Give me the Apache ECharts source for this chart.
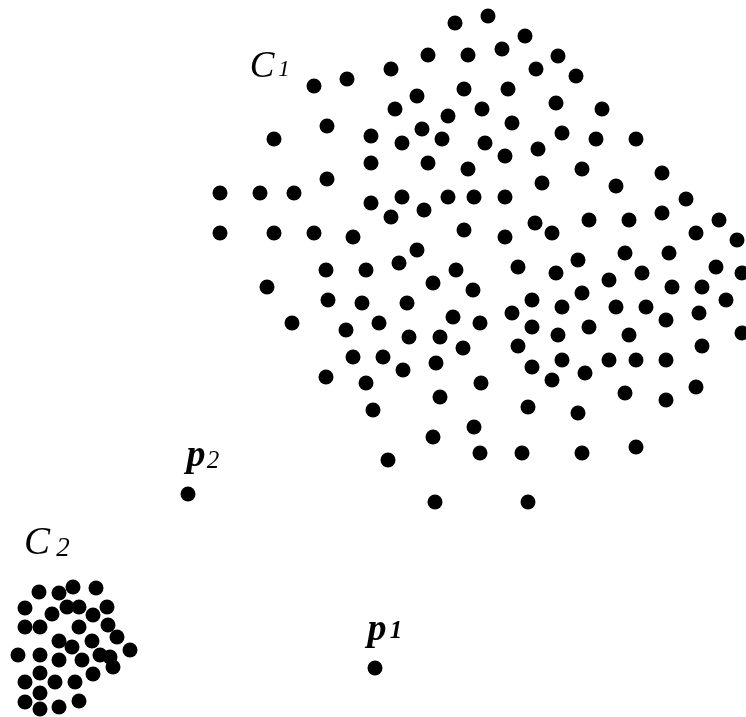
<!DOCTYPE html>
<html>
<head>
<meta charset="utf-8">
<style>
  html, body { margin: 0; padding: 0; background: #fff; }
  #chart { width: 746px; height: 717px; }
</style>
<script src="https://cdn.jsdelivr.net/npm/echarts@6/dist/echarts.min.js"></script>
</head>
<body>
<div id="chart"></div>
<script>
// Large, sparse cluster C1 (x, y in plane units; y grows downward)
const clusterC1 = [
  [455, 23], [488, 16],
  [525, 36], [502, 49], [468, 55], [428, 55], [558, 56],
  [391, 69], [347, 79], [314, 86], [536, 69], [576, 76],
  [464, 89], [508, 89], [417, 96],
  [395, 109], [482, 109], [556, 103], [602, 109],
  [448, 116], [512, 123],
  [327, 126], [422, 129], [562, 133],
  [274, 139], [371, 136], [402, 143], [442, 139], [485, 143], [596, 139], [636, 139],
  [538, 149], [505, 156],
  [371, 163], [428, 163], [468, 169], [582, 169], [662, 173],
  [327, 179], [542, 183], [616, 186],
  [220, 193], [260, 193], [294, 193], [402, 197], [448, 197], [474, 197], [505, 197], [686, 199],
  [371, 203], [424, 210], [391, 217], [662, 213],
  [535, 223], [589, 220], [629, 220], [719, 220],
  [220, 233], [274, 233], [314, 233], [353, 237], [464, 230], [505, 237], [552, 233], [696, 233],
  [737, 240],
  [417, 250], [625, 253], [669, 253], [578, 260],
  [399, 263], [326, 270], [366, 270], [456, 270], [518, 267], [556, 273], [642, 273], [716, 267], [742, 273],
  [609, 280], [433, 283],
  [267, 287], [473, 290], [582, 293], [672, 287], [702, 287],
  [328, 300], [362, 303], [407, 303], [532, 300], [726, 300],
  [562, 307], [616, 307], [646, 307],
  [453, 317], [512, 313], [699, 313],
  [292, 323], [379, 323], [480, 323], [666, 320],
  [346, 330], [532, 327], [589, 327],
  [409, 337], [440, 337], [558, 335], [629, 335], [742, 333],
  [463, 348], [518, 346], [702, 346],
  [353, 357], [383, 357],
  [403, 370], [436, 363], [562, 360], [609, 360], [636, 360], [666, 360], [532, 367],
  [585, 373], [326, 377], [552, 380],
  [366, 383], [481, 383], [696, 387],
  [625, 393], [440, 397], [666, 400],
  [373, 410], [528, 407], [578, 413],
  [474, 427], [433, 437],
  [480, 453], [522, 453], [582, 453], [636, 447],
  [388, 460],
  [435, 502], [528, 502]
];

// Small, dense cluster C2
const clusterC2 = [
  [39, 592], [59, 593], [73, 587], [96, 588],
  [25, 608], [52, 614], [67, 607], [79, 607], [93, 615], [107, 607],
  [25, 627], [40, 627], [79, 627], [108, 625],
  [117, 637], [59, 641], [92, 641], [72, 647],
  [18, 655], [40, 655], [59, 660], [82, 660], [100, 655], [110, 657], [130, 650],
  [113, 667], [40, 673], [93, 674],
  [25, 682], [55, 682], [75, 682],
  [40, 693], [25, 702], [40, 709], [59, 707], [79, 701]
];

// Isolated points p1 and p2
const isolated = [
  [375, 668],
  [188, 494]
];

// Annotation glyphs: [x, y, text, fontSize, fontWeight]
const annotations = [
  [262, 67, 'C', 37, 'normal'],
  [284, 70, '1', 23, 'normal'],
  [37, 544, 'C', 39, 'normal'],
  [63, 549, '2', 27, 'normal'],
  [196, 456, 'p', 38, 'bold'],
  [213, 461, '2', 25, 'normal'],
  [377, 630, 'p', 38, 'bold'],
  [396, 632, '1', 25, 'bold']
];

const serif = '"Liberation Serif", "Times New Roman", serif';

const chart = echarts.init(document.getElementById('chart'), null, { renderer: 'canvas' });

const dotStyle = { color: '#000', opacity: 1 };

chart.setOption({
  backgroundColor: '#ffffff',
  animation: false,
  grid: { left: 0, right: 0, top: 0, bottom: 0 },
  xAxis: { type: 'value', min: 0, max: 746, show: false },
  yAxis: { type: 'value', min: 0, max: 717, inverse: true, show: false },
  series: [
    {
      name: 'C1', type: 'scatter', symbol: 'circle', symbolSize: 15,
      itemStyle: dotStyle, data: clusterC1
    },
    {
      name: 'C2', type: 'scatter', symbol: 'circle', symbolSize: 15,
      itemStyle: dotStyle, data: clusterC2
    },
    {
      name: 'outliers', type: 'scatter', symbol: 'circle', symbolSize: 15,
      itemStyle: dotStyle, data: isolated
    },
    {
      name: 'labels', type: 'scatter', symbolSize: 0, silent: true,
      itemStyle: { opacity: 1 },
      data: annotations.map(a => ({
        value: [a[0], a[1]],
        label: {
          show: true,
          position: 'inside',
          formatter: a[2],
          fontFamily: serif,
          fontStyle: 'italic',
          fontWeight: a[4],
          fontSize: a[3],
          color: '#000',
          opacity: 1
        }
      }))
    }
  ]
});
</script>
</body>
</html>
